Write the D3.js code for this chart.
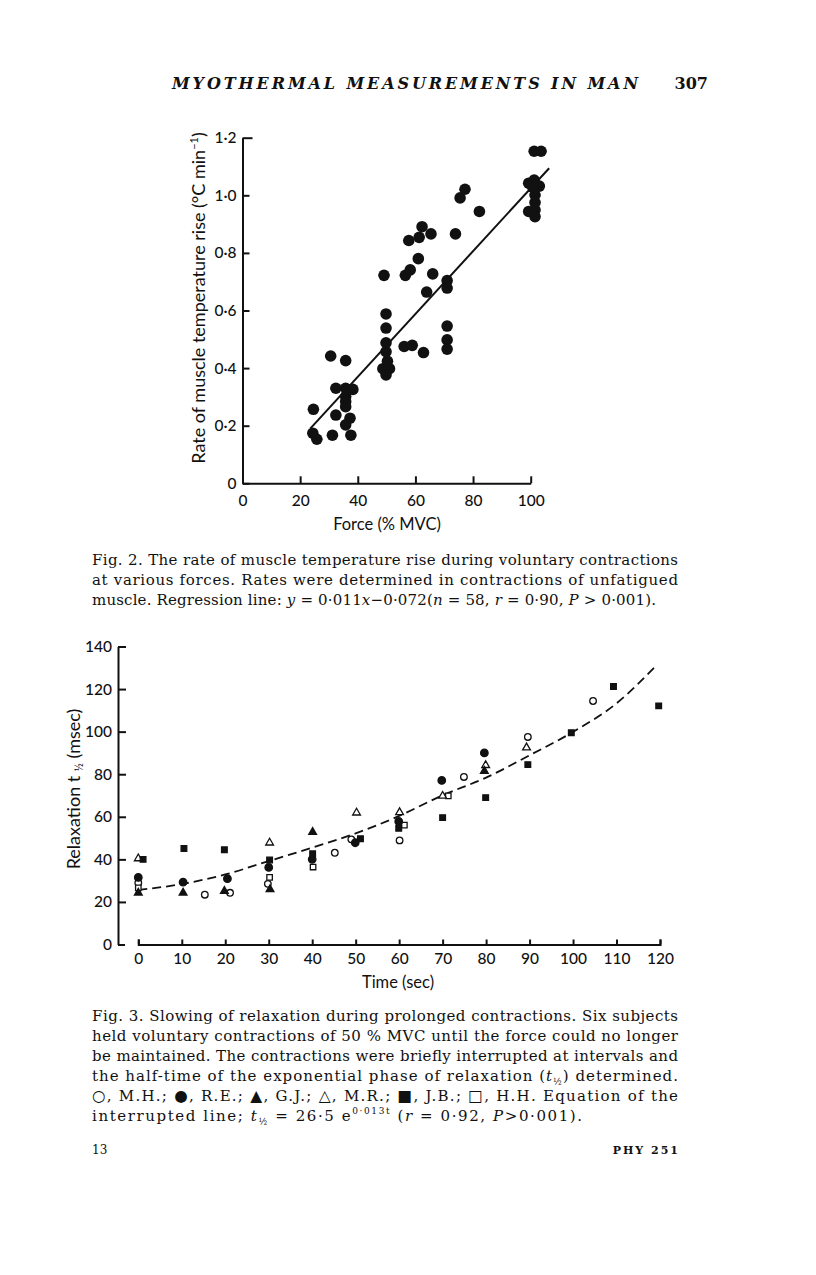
<!DOCTYPE html>
<html><head><meta charset="utf-8">
<script src="https://cdn.jsdelivr.net/npm/d3@7"></script>
<style>
html,body{margin:0;padding:0;background:#fff;}
svg{display:block;}
</style></head><body>
<svg id="page" width="816" height="1275"></svg>
<script>
// ---------- Fig. 2 data ----------
const fig2Force = [24.6,24.4,25.8,30.6,31.2,32.4,32.4,35.8,35.8,35.8,35.8,35.8,35.8,37.3,38.3,37.6,
  49.1,49.8,49.8,49.8,49.8,50.3,48.7,51.0,49.8,56.1,58.9,56.5,58.2,57.7,61.0,61.3,62.3,65.4,66.0,63.9,62.8,
  71.0,71.0,71.0,71.0,71.0,73.9,75.5,77.2,82.2,99.3,99.3,101.2,101.5,101.5,101.5,101.5,103.0,101.2,103.6,100.7,100.5];
const fig2Rate = [0.257,0.174,0.153,0.442,0.167,0.330,0.237,0.426,0.330,0.301,0.284,0.266,0.203,0.226,0.326,0.167,
  0.722,0.588,0.539,0.488,0.457,0.424,0.398,0.398,0.376,0.475,0.479,0.722,0.741,0.843,0.780,0.854,0.891,0.866,0.727,0.664,0.454,
  0.704,0.678,0.546,0.498,0.466,0.866,0.991,1.021,0.944,0.944,1.042,1.053,1.001,0.975,0.949,0.926,1.032,1.153,1.153,1.028,1.035];
const fig2LineForce = [23.5, 106.4];
const fig2LineRate = [0.19, 1.094];
const fig2XTicks = [0,20,40,60,80,100];
const fig2YTicks = [0,0.2,0.4,0.6,0.8,1.0,1.2];

// ---------- Fig. 3 data ----------
const mhTime  = [0,15.3,21.1,29.8,45.2,49.0,60.1,74.9,89.6,104.6];          // open circle
const mhRelax = [29,23.4,24.3,28.5,43.1,49.4,48.9,78.7,97.5,114.4];
const reTime  = [0,10.3,20.5,30,40,49.9,59.9,69.8,79.6];                      // filled circle
const reRelax = [31.5,29.3,30.9,36.2,40,47.8,57.8,77.1,90];
const gjTime  = [0,10.3,19.8,30.3,40.1,79.6];                                 // filled triangle
const gjRelax = [24.3,24.3,25.1,25.9,52.8,81.5];
const mrTime  = [0,30.2,50.2,60.1,70,79.9,89.3];                              // open triangle
const mrRelax = [40.4,47.8,61.9,62.1,69.8,84.2,92.5];
const jbTime  = [1.1,10.5,19.8,30.2,40.1,51.1,59.9,70,79.9,89.6,99.6,109.3,119.7]; // filled square
const jbRelax = [40,45.1,44.5,39.7,42.6,49.7,54.6,59.6,69,84.5,99.5,121.2,112.1];
const hhTime  = [0,30.2,40.2,61.2,71.3];                                      // open square
const hhRelax = [26.6,31.5,36.4,56.1,69.8];
const fig3CurveTime  = [0,10,20,30,40,50,60,70,80,90,100,110,119.2];
const fig3CurveRelax = [25.6,28.4,32.9,39.2,45.5,52.2,60.4,70.1,78.4,88.9,99.9,113.3,131.2];
const fig3XTicks = [0,10,20,30,40,50,60,70,80,90,100,110,120];
const fig3YTicks = [0,20,40,60,80,100,120,140];

const svg = d3.select("#page");
const SERIF = '"DejaVu Serif","Liberation Serif",serif';
const SANS = 'Lato,"Open Sans",sans-serif';
const SYM = '"DejaVu Sans",sans-serif';
const INK = "#111";

function dotFmt(d){ return d === 0 ? "0" : d3.format(".1f")(d).replace(".", "\u00B7"); }

// ---------- Header ----------
svg.append("text").attr("x",172).attr("y",89).attr("font-family",SERIF).attr("font-style","italic")
  .attr("font-weight","bold").attr("font-size",16).attr("fill",INK).attr("textLength",466).attr("lengthAdjust","spacing")
  .text("MYOTHERMAL MEASUREMENTS IN MAN");
svg.append("text").attr("x",708).attr("y",89).attr("text-anchor","end").attr("font-family",SERIF)
  .attr("font-weight","bold").attr("font-size",16).attr("fill",INK).text("307");

// ---------- Fig. 2 chart ----------
const x2 = d3.scaleLinear().domain([0,100]).range([242.5,530.7]);
const y2 = d3.scaleLinear().domain([0,1.2]).range([483.3,137.7]);
const g2 = svg.append("g");

const ax2 = g2.append("g").attr("transform",`translate(0,${y2(0)})`)
  .call(d3.axisBottom(x2).tickValues(fig2XTicks).tickSizeInner(-7).tickSizeOuter(0).tickPadding(12).tickFormat(d3.format("d")));
const ay2 = g2.append("g").attr("transform",`translate(${x2(0)},0)`)
  .call(d3.axisLeft(y2).tickValues(fig2YTicks).tickSizeInner(-7).tickSizeOuter(0).tickPadding(6).tickFormat(dotFmt));
[ax2, ay2].forEach(a => {
  a.selectAll("path,line").attr("stroke",INK).attr("stroke-width",2);
  a.selectAll("text").attr("font-family",SANS).attr("font-size",15.5).attr("font-weight",500).attr("fill",INK);
});
ay2.selectAll(".tick").filter(d => d === 1.2).select("line").attr("x2",10);

g2.append("path").attr("fill","none").attr("stroke",INK).attr("stroke-width",2)
  .attr("d", d3.line()(fig2LineForce.map((f,i)=>[x2(f), y2(fig2LineRate[i])])));
g2.selectAll("circle.pt").data(fig2Force.map((f,i)=>({f, r:fig2Rate[i]}))).join("circle")
  .attr("class","pt").attr("cx",d=>x2(d.f)).attr("cy",d=>y2(d.r)).attr("r",5.8).attr("fill",INK);

g2.append("text").attr("x",387).attr("y",530).attr("text-anchor","middle").attr("font-family",SANS)
  .attr("font-size",16.5).attr("fill",INK).text("Force (% MVC)");
const yl2 = g2.append("text").attr("transform","translate(205,298) rotate(-90)").attr("text-anchor","middle")
  .attr("font-family",SANS).attr("font-size",18).attr("fill",INK);
yl2.append("tspan").text("Rate of muscle temperature rise (\u00B0C min");
yl2.append("tspan").attr("font-size",11).attr("dy",-7).text("\u22121");
yl2.append("tspan").attr("dy",7).text(")");

// ---------- Caption helper ----------
function captionLine(x, y, segs, len){
  const t = svg.append("text").attr("x",x).attr("y",y).attr("font-family",SERIF).attr("font-size",15)
    .attr("fill",INK).attr("xml:space","preserve");
  if (len) t.attr("textLength",len).attr("lengthAdjust","spacing");
  let pending = 0;
  segs.forEach(s => {
    if (typeof s === "string") s = {t:s};
    const ts = t.append("tspan").text(s.t);
    let dy = pending; pending = 0;
    if (s.i) ts.attr("font-style","italic");
    if (s.sym) ts.attr("font-family",SYM).attr("font-size",15.5);
    if (s.sub) { ts.attr("font-size",9); dy += 4; pending = -4; }
    if (s.sup) { ts.attr("font-size",9); dy += -7; pending = 7; }
    if (dy) ts.attr("dy",dy);
  });
  return t;
}

captionLine(92,565,["Fig. 2. The rate of muscle temperature rise during voluntary contractions"],586);
captionLine(92,585,["at various forces. Rates were determined in contractions of unfatigued"],586);
captionLine(92,605,["muscle. Regression line: ",{t:"y",i:1}," = 0\u00B7011",{t:"x",i:1},"\u22120\u00B7072(",{t:"n",i:1},
  " = 58, ",{t:"r",i:1}," = 0\u00B790, ",{t:"P",i:1}," > 0\u00B7001)."],564);

// ---------- Fig. 3 chart ----------
const x3 = d3.scaleLinear().domain([0,120]).range([138.3,660]);
const y3 = d3.scaleLinear().domain([0,140]).range([944.5,646.5]);
const g3 = svg.append("g");
const ax3 = g3.append("g").attr("transform",`translate(0,${y3(0)})`)
  .call(d3.axisBottom(x3).tickValues(fig3XTicks).tickSizeInner(-5).tickSizeOuter(-5).tickPadding(8).tickFormat(d3.format("d")));
const ay3 = g3.append("g").attr("transform","translate(118,0)")
  .call(d3.axisLeft(y3).tickValues(fig3YTicks).tickSizeInner(-8).tickSizeOuter(0).tickPadding(6).tickFormat(d3.format("d")));
[ax3, ay3].forEach(a => {
  a.selectAll("path,line").attr("stroke",INK).attr("stroke-width",2);
  a.selectAll("text").attr("font-family",SANS).attr("font-size",15.5).attr("font-weight",500).attr("fill",INK);
});
ay3.selectAll(".tick").filter(d => d === 0).select("line").attr("x2",7);

g3.append("path").attr("fill","none").attr("stroke",INK).attr("stroke-width",1.8).attr("stroke-dasharray","9,5")
  .attr("d", d3.line().curve(d3.curveMonotoneX)(fig3CurveTime.map((t,i)=>[x3(t), y3(fig3CurveRelax[i])])));

const series3 = [
  {t:mhTime, v:mhRelax, type:d3.symbolCircle, size:34, fill:"#fff"},
  {t:hhTime, v:hhRelax, type:d3.symbolSquare, size:30, fill:"#fff"},
  {t:mrTime, v:mrRelax, type:d3.symbolTriangle, size:26, fill:"#fff"},
  {t:reTime, v:reRelax, type:d3.symbolCircle, size:44, fill:INK},
  {t:gjTime, v:gjRelax, type:d3.symbolTriangle, size:26, fill:INK},
  {t:jbTime, v:jbRelax, type:d3.symbolSquare, size:32, fill:INK}
];
series3.forEach(s => {
  g3.append("g").selectAll("path").data(s.t.map((t,i)=>[t, s.v[i]])).join("path")
    .attr("transform", d => `translate(${x3(d[0])},${y3(d[1])})`)
    .attr("d", d3.symbol().type(s.type).size(s.size))
    .attr("fill", s.fill).attr("stroke", INK).attr("stroke-width", 1.3);
});

g3.append("text").attr("x",398).attr("y",988).attr("text-anchor","middle").attr("font-family",SANS)
  .attr("font-size",16.5).attr("fill",INK).text("Time (sec)");
const yl3 = g3.append("text").attr("transform","translate(80,789) rotate(-90)").attr("text-anchor","middle")
  .attr("font-family",SANS).attr("font-size",18).attr("fill",INK);
yl3.append("tspan").text("Relaxation t ");
yl3.append("tspan").attr("font-size",11).attr("dy",3).text("\u00BD");
yl3.append("tspan").attr("dy",-3).text("  (msec)");

// ---------- Fig. 3 caption ----------
captionLine(92,1021,["Fig. 3. Slowing of relaxation during prolonged contractions. Six subjects"],586);
captionLine(92,1041,["held voluntary contractions of 50 % MVC until the force could no longer"],586);
captionLine(92,1061,["be maintained. The contractions were briefly interrupted at intervals and"],586);
captionLine(92,1081,["the half-time of the exponential phase of relaxation (",{t:"t",i:1},{t:"\u00BD",sub:1},") determined."],586);
captionLine(92,1101,[{t:"\u25CB",sym:1},", M.H.; ",{t:"\u25CF",sym:1},", R.E.; ",{t:"\u25B2",sym:1},", G.J.; ",
  {t:"\u25B3",sym:1},", M.R.; ",{t:"\u25A0",sym:1},", J.B.; ",{t:"\u25A1",sym:1},", H.H. Equation of the"],586);
captionLine(92,1121,["interrupted line; ",{t:"t",i:1},{t:"\u00BD",sub:1}," = 26\u00B75 e",{t:"0\u00B7013t",sup:1}," (",{t:"r",i:1},
  " = 0\u00B792, ",{t:"P",i:1},">0\u00B7001)."],490);

// ---------- Footer ----------
svg.append("text").attr("x",92).attr("y",1154).attr("font-family",SERIF).attr("font-size",12).attr("fill",INK).text("13");
svg.append("text").attr("x",680).attr("y",1154).attr("text-anchor","end").attr("font-family",SERIF)
  .attr("font-weight","bold").attr("font-size",11).attr("letter-spacing",2).attr("fill",INK).text("PHY 251");
</script>
</body></html>
